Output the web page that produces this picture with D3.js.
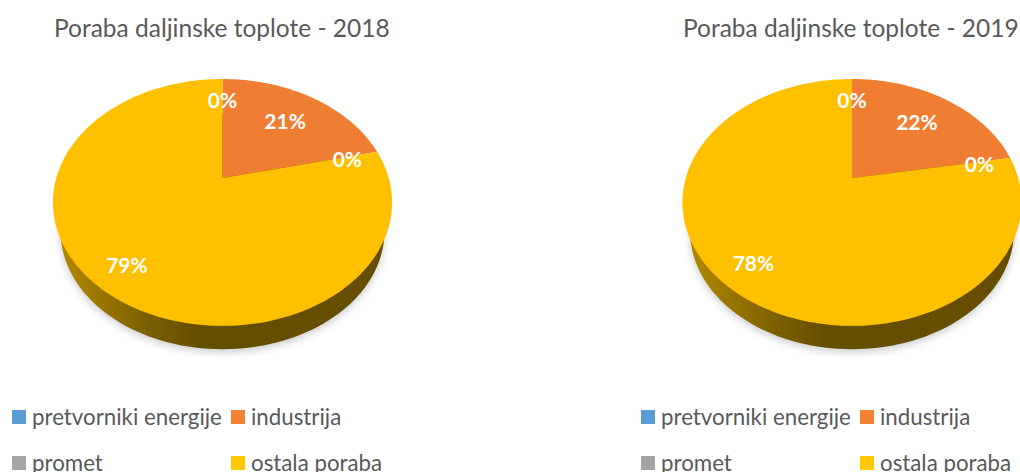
<!DOCTYPE html>
<html><head><meta charset="utf-8">
<script src="https://cdn.jsdelivr.net/npm/d3@7"></script>
<style>html,body{margin:0;padding:0;background:#fff}svg{display:block}text{font-family:Lato,sans-serif}</style>
</head><body><div id="c"></div>
<script>
const categories = ["pretvorniki energije","industrija","promet","ostala poraba"];
const colors = ["#5B9BD5","#EF7E32","#A5A5A5","#FFC000"];
const legendColors = ["#5B9BD5","#F58233","#A5A5A5","#FFC800"];
const titles = ["Poraba daljinske toplote - 2018","Poraba daljinske toplote - 2019"];
const values2018 = [0,21.3,0,78.7];
const values2019 = [0,22.2,0,77.8];
const seriesValues = [values2018,values2019];

const W=1020,H=472;
const svg=d3.select("#c").append("svg").attr("width",W).attr("height",H);
const defs=svg.append("defs");
defs.append("filter").attr("id","soft").attr("x","-10%").attr("y","-10%").attr("width","120%").attr("height","120%")
  .append("feGaussianBlur").attr("stdDeviation",4);

const panels=[{cx:222.5,lx:12,tx:54},{cx:852,lx:641,tx:683}];
const apexY=178,k=0.198,a=118.6,b=166.2;
const labelR=[0.75,0.67,0.8,0.81];
const labelDy=[7,7,10,9];
const wallScale=0.955,wallDrop=30;

// perspective view of a flat disc; t = angle clockwise from the top, r = fraction of radius
function project(p,t,r,scale=1,dy=0){
  const u=r*Math.sin(t),v=r*Math.cos(t),d=1+k*v;
  return [p.cx+scale*b*u/d, apexY+dy-scale*a*v/d];
}
const pie=d3.pie().sort(null).value(d=>d);
const pct=d3.format(".0%");
const line=d3.line();

panels.forEach((p,i)=>{
  const g=svg.append("g");
  const vals=seriesValues[i];
  const arcs=pie(vals);
  const total=d3.sum(vals);
  const ring=d3.range(0,361,2).map(x=>x*Math.PI/180);

  // soft shadow
  g.append("path").attr("d",line(ring.map(t=>project(p,t,1,wallScale,wallDrop)))+"Z")
    .attr("transform","translate(0,3)").attr("fill","#000").attr("opacity",0.2).attr("filter","url(#soft)");

  // side wall
  const gid="wall"+i;
  const grad=defs.append("linearGradient").attr("id",gid).attr("gradientUnits","userSpaceOnUse")
    .attr("x1",p.cx-165).attr("x2",p.cx+165).attr("y1",0).attr("y2",0);
  [[0,"#B58A00"],[0.12,"#9C7700"],[0.28,"#7A5E00"],[0.42,"#664E00"],[1,"#664E00"]]
    .forEach(s=>grad.append("stop").attr("offset",s[0]).attr("stop-color",s[1]));
  g.append("path").attr("d",line(ring.map(t=>project(p,t,1,wallScale,wallDrop)))+"Z").attr("fill",`url(#${gid})`);

  // top face
  arcs.forEach((s,j)=>{
    if(s.endAngle-s.startAngle<=0) return;
    const n=Math.max(2,Math.ceil((s.endAngle-s.startAngle)/0.02));
    const pts=d3.range(n+1).map(m=>project(p,s.startAngle+(s.endAngle-s.startAngle)*m/n,1));
    g.append("path").attr("d",line([[p.cx,apexY],...pts])+"Z").attr("fill",colors[j]);
  });

  // data labels
  arcs.forEach((s,j)=>{
    const pos=project(p,(s.startAngle+s.endAngle)/2,labelR[j]);
    g.append("text").attr("x",pos[0]).attr("y",pos[1]+labelDy[j]).attr("text-anchor","middle")
      .attr("font-size",21).attr("font-weight",700).attr("fill","#fff").text(pct(s.value/total));
  });

  // title
  g.append("text").attr("x",p.tx).attr("y",37).attr("font-size",24.5).attr("fill","#595959").text(titles[i]);

  // legend
  const lx=d3.scaleOrdinal().domain([0,1]).range([p.lx,p.lx+219]);
  const ly=d3.scaleOrdinal().domain([0,1]).range([410,456]);
  categories.forEach((c,j)=>{
    const x=lx(j%2),y=ly(Math.floor(j/2));
    g.append("rect").attr("x",x).attr("y",y).attr("width",14).attr("height",14).attr("fill",legendColors[j]);
    g.append("text").attr("x",x+20).attr("y",y+14.5).attr("font-size",22.3).attr("fill","#595959").text(c);
  });
});
</script></body></html>
